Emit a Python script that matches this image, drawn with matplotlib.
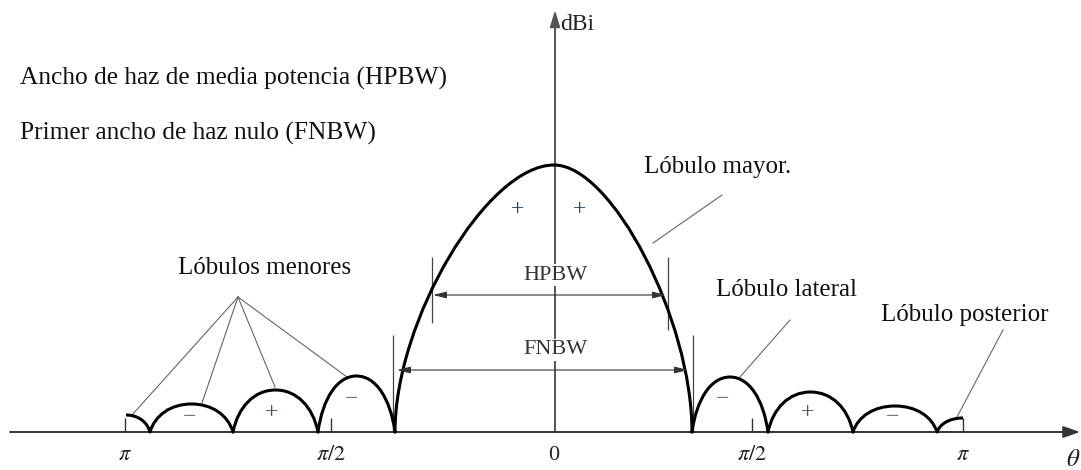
import numpy as np
import matplotlib
matplotlib.use('Agg')
import matplotlib.pyplot as plt
from matplotlib.path import Path
from matplotlib.patches import PathPatch

plt.rcParams['font.family'] = ['Liberation Serif', 'DejaVu Serif']
plt.rcParams['mathtext.fontset'] = 'stix'

# horizontal positions of the pattern nulls and of the lobe peaks
null_x = [150, 233, 318, 395, 692, 768, 853, 937]
peak_x = [191.5, 275.5, 356.5, 554, 730, 810.5, 895]
peak_h = [28, 42, 56, 267, 55, 40, 26]
# partial lobes at the two ends (edge x, height at edge)
edge_left = (126, 17)
edge_right = (963, 14)

tick_x = [125, 331, 554, 752, 963]
tick_labels = [r'$\pi$', r'$\pi/2$', '0', r'$\pi/2$', r'$\pi$']

sign_x = [190, 272, 352, 518, 579, 723, 807, 893]
sign_y = [14, 19, 32, 222, 222, 32, 19, 14]
sign_txt = ['\u2212', '+', '\u2212', '+', '+', '\u2212', '+', '\u2212']
sign_col = ['#777777', '#6a3a6a', '#777777', '#2e4a66', '#2e4a66', '#777777', '#555555', '#777777']

# half-power and first-null beamwidth markers
hpbw_x = [433, 666]
hpbw_y = 137
fnbw_x = [397, 688]
fnbw_y = 62

# bezier handle shapes: (horizontal offset at null, vertical handle, handle at peak)
SHAPE_MAIN = (0.0, 0.42, 0.42)
SHAPE_SIDE = (0.12, 0.6, 0.5)


def lobe_path(a, b, c, h, shape):
    dx, ky, kp = shape
    verts = [(a, 0), (a + dx * (c - a), ky * h), (c - kp * (c - a), h), (c, h),
             (c + kp * (b - c), h), (b - dx * (b - c), ky * h), (b, 0)]
    codes = [Path.MOVETO] + [Path.CURVE4] * 6
    return Path(verts, codes)


fig = plt.figure(figsize=(10.81, 4.70), dpi=100)
ax = fig.add_axes([0, 0, 1, 1])
ax.set_xlim(0, 1081)
ax.set_ylim(-38, 432)
ax.axis('off')

axis_col = '#555555'
# x axis with arrow
ax.annotate('', xy=(1080, 0), xytext=(10, 0),
            arrowprops=dict(arrowstyle='-|>,head_length=1.0,head_width=0.35',
                            color='#333333', lw=1.4, shrinkA=0, shrinkB=0))
# vertical axis with arrow
ax.annotate('', xy=(555, 422), xytext=(555, 0),
            arrowprops=dict(arrowstyle='-|>,head_length=1.0,head_width=0.3',
                            color=axis_col, lw=1.4, shrinkA=0, shrinkB=0), zorder=1)

ax.vlines([tick_x[0], tick_x[1], tick_x[3], tick_x[4]], 0, 14, color='#333333', lw=1.0)
for x, lab in zip(tick_x, tick_labels):
    ax.text(x, -23, lab, ha='center', va='center', fontsize=16, color='#222222')
ax.text(1073, -28, r'$\theta$', ha='center', va='center', fontsize=18, color='#222222')
ax.text(560, 408, 'dBi', ha='left', va='center', fontsize=17, color='#222222')

# lobes
for i in range(len(peak_h)):
    shape = SHAPE_MAIN if peak_h[i] == max(peak_h) else SHAPE_SIDE
    p = lobe_path(null_x[i], null_x[i + 1], peak_x[i], peak_h[i], shape)
    ax.add_patch(PathPatch(p, fill=False, lw=2.2, ec='black', capstyle='round', zorder=3))

dx, ky, kp = SHAPE_SIDE
ex, eh = edge_left
w = null_x[0] - ex
p = Path([(ex, eh), (ex + kp * w, eh), (null_x[0] - dx * w, ky * eh), (null_x[0], 0)],
         [Path.MOVETO] + [Path.CURVE4] * 3)
ax.add_patch(PathPatch(p, fill=False, lw=2.2, ec='black', zorder=3))
ex, eh = edge_right
w = ex - null_x[-1]
p = Path([(null_x[-1], 0), (null_x[-1] + dx * w, ky * eh), (ex - kp * w, eh), (ex, eh)],
         [Path.MOVETO] + [Path.CURVE4] * 3)
ax.add_patch(PathPatch(p, fill=False, lw=2.2, ec='black', zorder=3))

# beamwidth markers
ax.vlines([432], 109, 175, color='#444444', lw=0.9)
ax.vlines([668], 102, 175, color='#444444', lw=0.9)
ax.vlines([393], 2, 97, color='#444444', lw=0.9)
ax.vlines([693], 0, 97, color='#444444', lw=0.9)
for xs, y in [(hpbw_x, hpbw_y), (fnbw_x, fnbw_y)]:
    ax.annotate('', xy=(xs[0], y), xytext=(xs[1], y),
                arrowprops=dict(arrowstyle='<|-|>,head_length=0.8,head_width=0.2',
                                color='#333333', lw=0.8, shrinkA=0, shrinkB=0), zorder=4)
ax.text(556, 157, 'HPBW', ha='center', va='center', fontsize=16, color='#333333',
        bbox=dict(fc='white', ec='none', pad=1), zorder=5)
ax.text(556, 82, 'FNBW', ha='center', va='center', fontsize=16, color='#333333',
        bbox=dict(fc='white', ec='none', pad=1), zorder=5)

for x, y, s, c in zip(sign_x, sign_y, sign_txt, sign_col):
    ax.text(x, y, s, ha='center', va='center', fontsize=17, color=c)

# leader lines from the labels to the lobes
lead_col = '#666666'
menores_src = (238, 135)
menores_dst = [(132, 17), (202, 29), (275, 45), (347, 55)]
for x, y in menores_dst:
    ax.plot([menores_src[0], x], [menores_src[1], y], color=lead_col, lw=0.8)
ax.plot([722, 653], [237, 189], color=lead_col, lw=0.8)
ax.plot([790, 740], [112, 55], color=lead_col, lw=0.8)
ax.plot([1003, 957], [102, 15], color=lead_col, lw=0.8)

txt_col = '#111111'
ax.text(20, 354, 'Ancho de haz de media potencia (HPBW)', ha='left', va='center',
        fontsize=18.3, color=txt_col)
ax.text(20, 299, 'Primer ancho de haz nulo (FNBW)', ha='left', va='center',
        fontsize=18.3, color=txt_col)
ax.text(718, 265, 'Lóbulo mayor.', ha='center', va='center', fontsize=18, color=txt_col)
ax.text(265, 164, 'Lóbulos menores', ha='center', va='center', fontsize=18, color=txt_col)
ax.text(786, 142, 'Lóbulo lateral', ha='center', va='center', fontsize=18, color=txt_col)
ax.text(965, 117, 'Lóbulo posterior', ha='center', va='center', fontsize=18, color=txt_col)

fig.savefig('out.png', dpi=100)
